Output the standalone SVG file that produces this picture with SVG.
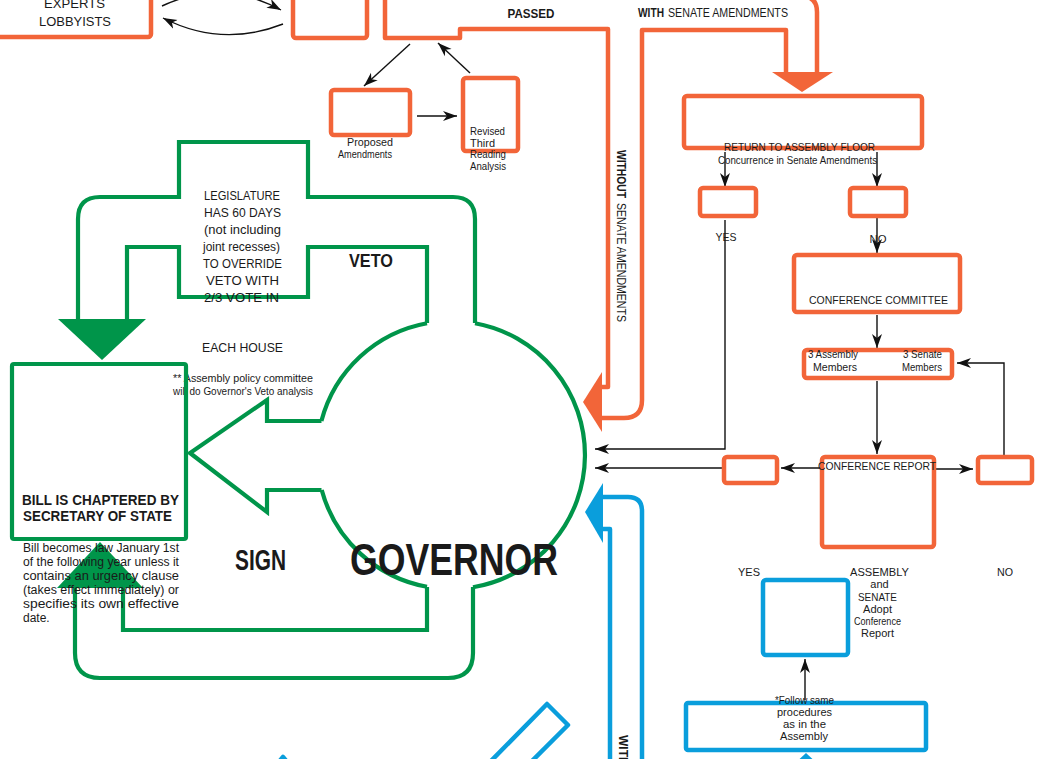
<svg xmlns="http://www.w3.org/2000/svg" width="1048" height="759" viewBox="0 0 1048 759">
<defs>
<style>
.o{fill:none;stroke:#F26539;stroke-width:4.5;stroke-linejoin:round}
.g{fill:none;stroke:#00954A;stroke-width:4.2;stroke-linejoin:miter}
.b{fill:none;stroke:#0A9EDC;stroke-width:4.5;stroke-linejoin:round}
.of{fill:#F26539}
.gf{fill:#00954A}
.bf{fill:#0A9EDC}
.c{fill:none;stroke:#111;stroke-width:1.4;marker-end:url(#ah)}
text{font-family:"Liberation Sans Narrow","Liberation Sans",Arial,sans-serif;fill:#1a1a1a}
.s11{font-size:11px}
.s12{font-size:12px}
.s13{font-size:13px}
.m{text-anchor:middle}
.bd{font-weight:bold}
</style>
<marker id="ah" markerUnits="userSpaceOnUse" markerWidth="16" markerHeight="12" refX="14" refY="6" orient="auto">
<path d="M0,1 L14,6 L0,11 L4,6 z" fill="#111"/>
</marker>
</defs>
<rect width="1048" height="759" fill="#fff"/>

<g id="connectors">
<path class="c" d="M162,6 Q222,-22 281,10"/>
<path class="c" d="M283,24 Q222,48 163,18"/>
<path class="c" d="M410,44 L364,86"/>
<path class="c" d="M417,116 L457,116"/>
<path class="c" d="M470,73 L438,43"/>
<path class="c" d="M725,152 L725,187"/>
<path class="c" d="M877,152 L877,187"/>
<path class="c" d="M877,218 L877,253"/>
<path class="c" d="M877,315 L877,348"/>
<path class="c" d="M877,381 L877,454"/>
<path class="c" d="M725,220 L725,449 L595,449"/>
<path class="c" d="M822,468 L781,468"/>
<path class="c" d="M722,468 L595,468"/>
<path class="c" d="M934,469 L973,469"/>
<path class="c" d="M1004,455 L1004,363 L957,363"/>
<path class="c" d="M805,700 L805,659"/>
<!-- orange passed / without / with arrows -->
<path class="of" d="M602,372 L583,402 L602,432 z"/>
<path class="o" d="M786,72 L786,30 L642,30 L642,400 Q642,418 624,418 L602,418"/>
<path class="of" d="M772,72 L833,72 L802,92 z"/>
<path class="o" d="M817,72 L817,12 Q817,-4 801,-4 L700,-4"/>
<!-- blue arrow -->
<path class="bf" d="M603,483 L585,512 L603,543 z"/>
<path class="b" d="M610,765 L610,529 L603,529"/>
<path class="b" d="M603,497 L628,497 Q642,497 642,511 L642,765"/>
<path class="b" d="M489,763 L547,704 L568,725 L530,763"/>
<path class="b" d="M278,763 L283,757 L288,763"/>
<path class="bf" d="M806,753 L792,766 L820,766 z"/>
<!-- green veto arrow -->
<path class="g" d="M475,323 L475,219 Q475,197 453,197 L308,197 L308,142 L179,142 L179,197 L100,197 Q78,197 78,219 L78,320"/>
<path class="g" d="M427,323 L427,247 L308,247 L308,297 L179,297 L179,247 L127,247 L127,320"/>
<path class="gf" d="M58,319 L146,319 L102,360 z"/>
<!-- green sign arrow -->
<path class="g" d="M321.5,421 L267,421 L267,400 L190,453 L267,512 L267,490 L321.5,490"/>
<!-- green sign loop -->
<path class="g" d="M427,587 L427,630 L123,630 L123,587"/>
<path class="g" d="M473,587 L473,653 Q473,678 448,678 L100,678 Q75,678 75,653 L75,587"/>
<path class="gf" d="M57,588 L143,588 L100,542 z"/>
<!-- labels -->
<text class="s12 bd m" x="531" y="18" textLength="47" lengthAdjust="spacingAndGlyphs">PASSED</text>
<text class="s12 bd" x="638" y="17" textLength="26" lengthAdjust="spacingAndGlyphs">WITH</text>
<text class="s12" x="668" y="17" textLength="120" lengthAdjust="spacingAndGlyphs">SENATE AMENDMENTS</text>
<text class="s12 bd" transform="translate(617,150) rotate(90)" textLength="48" lengthAdjust="spacingAndGlyphs">WITHOUT</text>
<text class="s12" transform="translate(617,203) rotate(90)" textLength="119" lengthAdjust="spacingAndGlyphs">SENATE AMENDMENTS</text>
<text class="s12 bd" transform="translate(619,735) rotate(90)">WITH</text>
<text class="s11 m" x="726" y="241" textLength="21" lengthAdjust="spacingAndGlyphs">YES</text>
<text class="s11 m" x="878" y="243" textLength="17" lengthAdjust="spacingAndGlyphs">NO</text>
<text class="s11 m" x="749" y="576" textLength="22" lengthAdjust="spacingAndGlyphs">YES</text>
<text class="s11 m" x="1005" y="576" textLength="16" lengthAdjust="spacingAndGlyphs">NO</text>
<text class="bd m" x="371" y="267" style="font-size:18px" textLength="44" lengthAdjust="spacingAndGlyphs">VETO</text>
<text class="bd m" x="260.5" y="570" style="font-size:29px" textLength="51" lengthAdjust="spacingAndGlyphs">SIGN</text>
<g class="s13 m">
<text x="242" y="200" textLength="76" lengthAdjust="spacingAndGlyphs">LEGISLATURE</text>
<text x="242.5" y="217" textLength="77" lengthAdjust="spacingAndGlyphs">HAS 60 DAYS</text>
<text x="242.5" y="234" textLength="77" lengthAdjust="spacingAndGlyphs">(not including</text>
<text x="241.5" y="251" textLength="77" lengthAdjust="spacingAndGlyphs">joint recesses)</text>
<text x="242.5" y="268" textLength="79" lengthAdjust="spacingAndGlyphs">TO OVERRIDE</text>
<text x="242.5" y="285" textLength="73" lengthAdjust="spacingAndGlyphs">VETO WITH</text>
<text x="241.5" y="302" textLength="75" lengthAdjust="spacingAndGlyphs">2/3 VOTE IN</text>
<text x="242.5" y="352" textLength="81" lengthAdjust="spacingAndGlyphs">EACH HOUSE</text>
</g>
<text class="s11 m" x="243" y="382" textLength="140" lengthAdjust="spacingAndGlyphs">** Assembly policy committee</text>
<text class="s11 m" x="243" y="395" textLength="140" lengthAdjust="spacingAndGlyphs">will do Governor's Veto analysis</text>
</g>

<g id="experts">
<rect class="o" x="-10" y="-10" width="161" height="47" rx="3"/>
<text class="s13 m" x="74.5" y="8" textLength="61" lengthAdjust="spacingAndGlyphs">EXPERTS</text>
<text class="s13 m" x="75" y="26" textLength="72" lengthAdjust="spacingAndGlyphs">LOBBYISTS</text>
</g>
<g id="committee">
<rect class="o" x="293" y="-10" width="74" height="48" rx="3"/>
</g>
<g id="floor">
<path class="o" d="M385,-8 L385,38 L460,38 L460,29 L608,29 L608,387 L602,387"/>
</g>
<g id="proposed">
<rect class="o" x="331" y="90" width="79" height="45" rx="3"/>
<text class="s11 m" x="370" y="146" textLength="46" lengthAdjust="spacingAndGlyphs">Proposed</text>
<text class="s11 m" x="365" y="158" textLength="54" lengthAdjust="spacingAndGlyphs">Amendments</text>
</g>
<g id="revised">
<rect class="o" x="463" y="78" width="55" height="73" rx="3"/>
<text class="s11" x="470" y="135" textLength="35" lengthAdjust="spacingAndGlyphs">Revised</text>
<text class="s11" x="470" y="147" textLength="25" lengthAdjust="spacingAndGlyphs">Third</text>
<text class="s11" x="470" y="158" textLength="36" lengthAdjust="spacingAndGlyphs">Reading</text>
<text class="s11" x="470" y="170" textLength="36" lengthAdjust="spacingAndGlyphs">Analysis</text>
</g>
<g id="return">
<rect class="o" x="684" y="96" width="238" height="52" rx="3"/>
<text class="s11 m" x="799.5" y="151" textLength="151" lengthAdjust="spacingAndGlyphs">RETURN TO ASSEMBLY FLOOR</text>
<text class="s11 m" x="797.5" y="164" textLength="159" lengthAdjust="spacingAndGlyphs">Concurrence in Senate Amendments</text>
</g>
<g id="yes-box"><rect class="o" x="700" y="188" width="56" height="28" rx="3"/></g>
<g id="no-box"><rect class="o" x="850" y="188" width="56" height="28" rx="3"/></g>
<g id="conference-committee">
<rect class="o" x="794" y="255" width="166" height="57" rx="3"/>
<text class="s11 m" x="878.5" y="304" textLength="139" lengthAdjust="spacingAndGlyphs">CONFERENCE COMMITTEE</text>
</g>
<g id="members">
<rect class="o" x="804" y="350" width="148" height="28" rx="3"/>
<text class="s11 m" x="833" y="358" textLength="50" lengthAdjust="spacingAndGlyphs">3 Assembly</text>
<text class="s11 m" x="835" y="371" textLength="44" lengthAdjust="spacingAndGlyphs">Members</text>
<text class="s11 m" x="922.5" y="358" textLength="39" lengthAdjust="spacingAndGlyphs">3 Senate</text>
<text class="s11 m" x="922" y="371" textLength="40" lengthAdjust="spacingAndGlyphs">Members</text>
</g>
<g id="conference-report">
<rect class="o" x="822" y="457" width="112" height="90" rx="3"/>
<text class="s11 m" x="877" y="470" textLength="118" lengthAdjust="spacingAndGlyphs">CONFERENCE REPORT</text>
</g>
<g id="report-yes"><rect class="o" x="724" y="457" width="53" height="26" rx="3"/></g>
<g id="report-no"><rect class="o" x="978" y="457" width="54" height="26" rx="3"/></g>
<g id="adopt">
<rect class="b" x="763" y="580" width="85" height="75" rx="3"/>
<text class="s11 m" x="879.5" y="576" textLength="59" lengthAdjust="spacingAndGlyphs">ASSEMBLY</text>
<text class="s11 m" x="879.5" y="588">and</text>
<text class="s11 m" x="877.5" y="601" textLength="39" lengthAdjust="spacingAndGlyphs">SENATE</text>
<text class="s11 m" x="877.5" y="613" textLength="29" lengthAdjust="spacingAndGlyphs">Adopt</text>
<text class="s11 m" x="877.5" y="625" textLength="47" lengthAdjust="spacingAndGlyphs">Conference</text>
<text class="s11 m" x="877.5" y="637" textLength="33" lengthAdjust="spacingAndGlyphs">Report</text>
</g>
<g id="senate-procedures">
<rect class="b" x="686" y="703" width="240" height="47" rx="2"/>
<text class="s11 m" x="804.5" y="704" textLength="59" lengthAdjust="spacingAndGlyphs">*Follow same</text>
<text class="s11 m" x="804.5" y="716" textLength="55" lengthAdjust="spacingAndGlyphs">procedures</text>
<text class="s11 m" x="804.5" y="728" textLength="43" lengthAdjust="spacingAndGlyphs">as in the</text>
<text class="s11 m" x="804" y="740" textLength="48" lengthAdjust="spacingAndGlyphs">Assembly</text>
</g>
<g id="governor">
<path class="g" d="M475,323.2 A134,134 0 0 1 473,587.2"/>
<path class="g" d="M427,586.8 A134,134 0 0 1 321.7,490"/>
<path class="g" d="M321.4,421 A134,134 0 0 1 427,323.2"/>
<text class="bd m" x="454" y="575" style="font-size:44px" textLength="208" lengthAdjust="spacingAndGlyphs">GOVERNOR</text>
</g>
<g id="bill">
<rect class="g" x="12" y="364" width="174" height="175" rx="2"/>
<text class="bd m" x="100.5" y="505" style="font-size:14px" textLength="157" lengthAdjust="spacingAndGlyphs">BILL IS CHAPTERED BY</text>
<text class="bd m" x="97.5" y="521" style="font-size:14px" textLength="149" lengthAdjust="spacingAndGlyphs">SECRETARY OF STATE</text>
<text class="s12" x="23" y="552" textLength="156" lengthAdjust="spacingAndGlyphs">Bill becomes law January 1st</text>
<text class="s12" x="23" y="566" textLength="156" lengthAdjust="spacingAndGlyphs">of the following year unless it</text>
<text class="s12" x="23" y="580" textLength="156" lengthAdjust="spacingAndGlyphs">contains an urgency clause</text>
<text class="s12" x="23" y="594" textLength="156" lengthAdjust="spacingAndGlyphs">(takes effect immediately) or</text>
<text class="s12" x="23" y="608" textLength="156" lengthAdjust="spacingAndGlyphs">specifies its own effective</text>
<text class="s12" x="23" y="622">date.</text>
</g>
</svg>
